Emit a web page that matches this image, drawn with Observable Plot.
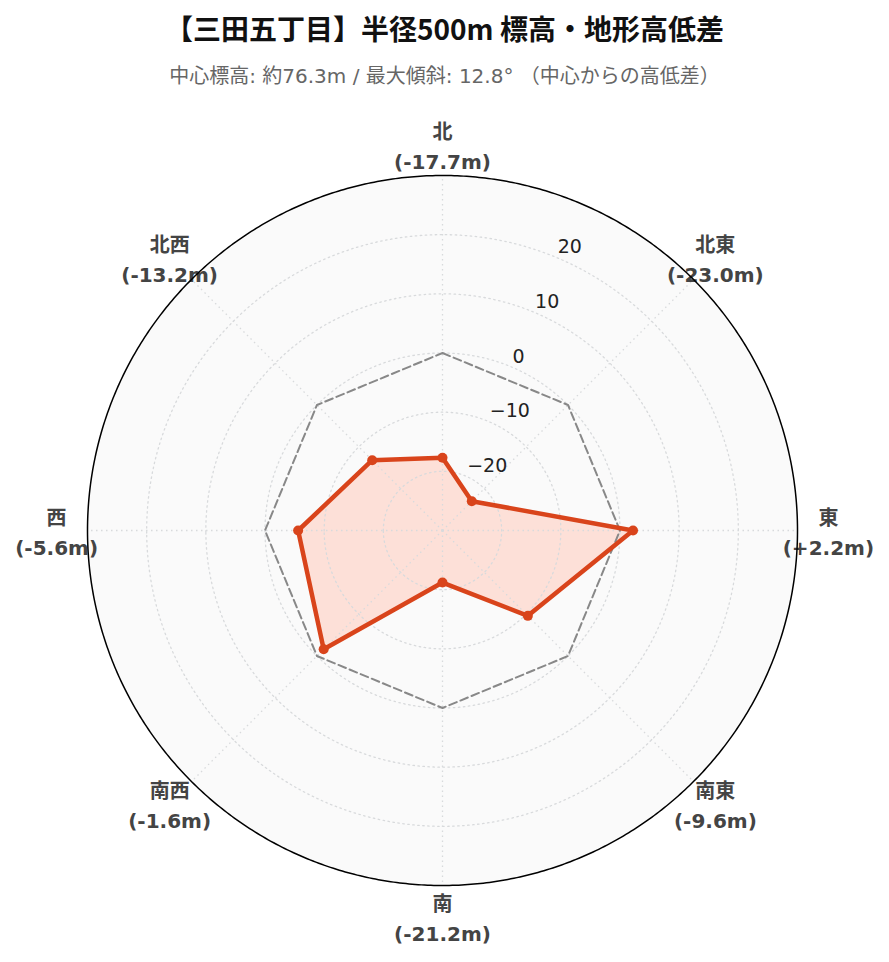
<!DOCTYPE html>
<html>
<head>
<meta charset="utf-8">
<script src="https://cdn.jsdelivr.net/npm/d3@7"></script>
<script src="https://cdn.jsdelivr.net/npm/@observablehq/plot@0.6"></script>
<style>
  html, body { margin: 0; padding: 0; background: #fff; }
  #wrap { width: 889px; position: relative; font-family: "DejaVu Sans", "Noto Sans CJK JP", sans-serif; }
  #title { height: 56px; line-height: 56px; text-align: center; font-weight: bold; font-size: 28px; color: #111;
           font-family: "Noto Sans CJK JP", sans-serif; }
  #subtitle { height: 44px; line-height: 40px; text-align: center; font-size: 20px; color: #666;
              font-family: "DejaVu Sans", "Noto Sans CJK JP", sans-serif; }
  #chart svg { display: block; }
</style>
</head>
<body>
<div id="wrap">
  <div id="title"></div>
  <div id="subtitle"></div>
  <div id="chart"></div>
</div>
<script>
// ---- data ----
const titleText = "【三田五丁目】半径500m 標高・地形高低差";
const subtitleText = "中心標高: 約76.3m / 最大傾斜: 12.8° （中心からの高低差）";
const directions = ["北", "北東", "東", "南東", "南", "南西", "西", "北西"];
const elevDiff = [-17.7, -23.0, 2.2, -9.6, -21.2, -1.6, -5.6, -13.2];
const radialTicks = [-20, -10, 0, 10, 20];
const referenceLevel = 0;
const radialRange = [-30, 30];

document.getElementById("title").textContent = titleText;
document.getElementById("subtitle").textContent = subtitleText;

const data = directions.map((dir, i) => ({dir, value: elevDiff[i]}));
const refData = directions.map((dir) => ({dir, value: referenceLevel}));

const K = 0.01; // degrees per metre (small so straight segments)
const [rMin, rMax] = radialRange;
const lon = d3.scalePoint().domain(directions).range([180, -135]);
const lat = (v) => 90 - (v - rMin) * K;
const circle = (v) => d3.geoCircle().center([0, 90]).radius((v - rMin) * K).precision(0.5)();
const labelValue = rMax + (rMax - rMin) * 0.087;
const tickLon = 180 - 22.5;
const fmtTick = (d) => (d < 0 ? "\u2212" + Math.abs(d) : String(d));
const fmtDiff = (v) => (v >= 0 ? "+" : "-") + Math.abs(v).toFixed(1) + "m";

const lineColor = "#d9441b";
const gridColor = "#d8dadc";

const plot = Plot.plot({
  width: 889,
  height: 862,
  marginLeft: 87,
  marginRight: 92,
  marginTop: 75,
  marginBottom: 77,
  style: {fontFamily: "'DejaVu Sans', 'Noto Sans CJK JP', sans-serif", background: "transparent"},
  projection: {
    type: "azimuthal-equidistant",
    rotate: [0, -90],
    domain: circle(rMax),
    clip: false
  },
  marks: [
    Plot.geo([rMax], {geometry: circle, fill: "#fafafa", stroke: "none"}),
    Plot.line(data, {x: (d) => lon(d.dir), y: (d) => lat(d.value), curve: "linear-closed", fill: "#fde0d8", stroke: "none"}),
    Plot.geo(radialTicks, {geometry: circle, fill: "none", stroke: gridColor, strokeWidth: 1.3, strokeDasharray: "1.5,3.5"}),
    Plot.link(directions, {x1: (d) => lon(d), y1: 90, x2: (d) => lon(d), y2: lat(rMax), stroke: gridColor, strokeWidth: 1.3, strokeDasharray: "1.5,3.5"}),
    Plot.line(refData, {x: (d) => lon(d.dir), y: (d) => lat(d.value), curve: "linear-closed", stroke: "#888", strokeWidth: 2, strokeDasharray: "8,4"}),
    Plot.line(data, {x: (d) => lon(d.dir), y: (d) => lat(d.value), curve: "linear-closed", fill: "none", stroke: lineColor, strokeWidth: 4.5, strokeLinejoin: "round"}),
    Plot.dot(data, {x: (d) => lon(d.dir), y: (d) => lat(d.value), r: 5, fill: lineColor, stroke: "none"}),
    Plot.text(radialTicks, {x: tickLon, y: (d) => lat(d), text: fmtTick, textAnchor: "start", dx: 2, dy: -10, fontSize: 19, fill: "#222"}),
    Plot.text(data, {x: (d) => lon(d.dir), y: lat(labelValue), text: (d) => d.dir + "\n(" + fmtDiff(d.value) + ")", lineAnchor: "middle", lineHeight: 1.5, fontSize: 20, fontWeight: "bold", fill: "#444"}),
    Plot.geo([rMax], {geometry: circle, fill: "none", stroke: "#000", strokeWidth: 1.5})
  ]
});
document.getElementById("chart").appendChild(plot);
</script>
</body>
</html>
